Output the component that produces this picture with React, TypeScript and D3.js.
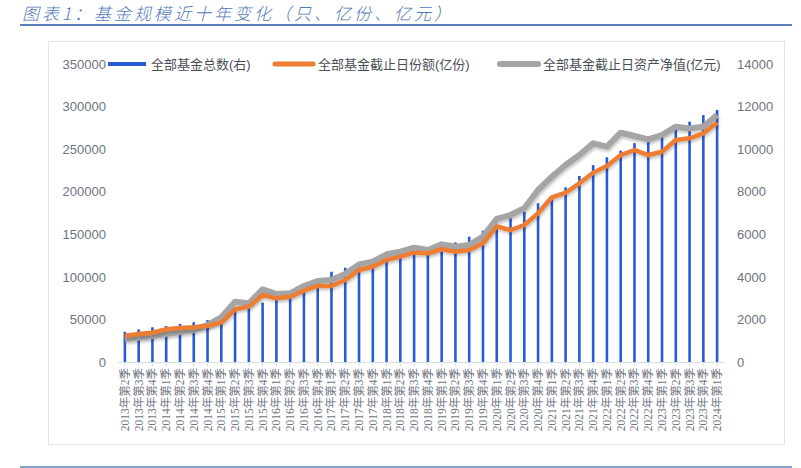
import React, { useRef, useEffect } from 'react';
import * as d3 from 'd3';

// quarters 2013Q2 .. 2024Q1
const quarters: string[] = [];
for (let y = 2013; y <= 2024; y++) {
  for (let q = 1; q <= 4; q++) {
    if ((y === 2013 && q < 2) || (y === 2024 && q > 1)) continue;
    quarters.push(`${y}年第${q}季`);
  }
}

// 全部基金总数 (只), right axis
const fundCount = [
  1420, 1530, 1630, 1690, 1790, 1870, 1970, 2100, 2480, 2520, 2790,
  2950, 3040, 3300, 3880, 4240, 4430, 4560, 4690, 4710, 4920, 5110,
  5150, 5190, 5620, 5890, 6170, 6400, 6750, 7060, 7460, 7770, 8210,
  8740, 9250, 9620, 9930, 10280, 10560, 10770, 10900, 11290, 11600, 11840,
];

// 全部基金截止日份额 (亿份), left axis
const fundShare = [
  30900, 32900, 34400, 38400, 39900, 40700, 42600, 46200, 61900, 65000, 78700,
  74800, 76700, 83700, 89300, 89300, 96300, 108100, 111900, 119800, 123700, 128400,
  127700, 132400, 129500, 131500, 139500, 159300, 155000, 160900, 174600, 193400, 198800,
  209900, 222300, 230200, 243100, 249000, 243100, 247000, 260700, 262700, 268600, 281100,
];

// 全部基金截止日资产净值 (亿元), left axis
const fundNav = [
  27000, 28500, 30500, 32900, 35200, 37600, 43500, 52500, 70800, 68900, 85400,
  79900, 80700, 89300, 95100, 96300, 103400, 114700, 117800, 126500, 129500, 134300,
  131500, 138200, 135400, 137400, 147200, 168000, 172600, 180500, 202000, 217600, 231400,
  243100, 256800, 252900, 269300, 265400, 261500, 266600, 276400, 274400, 276400, 290100,
];

const leftTicks = [0, 50000, 100000, 150000, 200000, 250000, 300000, 350000];
const rightTicks = [0, 2000, 4000, 6000, 8000, 10000, 12000, 14000];

const legendItems = [
  { label: '全部基金总数(右)', color: '#2a5bd7', width: 4 },
  { label: '全部基金截止日份额(亿份)', color: '#ED7D31', width: 5 },
  { label: '全部基金截止日资产净值(亿元)', color: '#A5A5A5', width: 6 },
];

const title = '图表1：基金规模近十年变化（只、亿份、亿元）';

const FundChart = ({ width, height }: { width: number; height: number }) => {
  const svgRef = useRef<SVGSVGElement>(null);

  useEffect(() => {
    const svg = d3.select(svgRef.current);
    svg.selectAll('*').remove();
    svg.attr('width', width).attr('height', height);

    const sans = "Arial, 'Liberation Sans', 'Noto Sans CJK SC', sans-serif";
    const axisColor = '#6d7480';

    // shadow filter
    const defs = svg.append('defs');
    const f = defs.append('filter').attr('id', 'shadow').attr('x', '-5%').attr('y', '-20%').attr('width', '110%').attr('height', '140%');
    f.append('feDropShadow').attr('dx', 1).attr('dy', 2).attr('stdDeviation', 1.5).attr('flood-color', '#000').attr('flood-opacity', 0.25);

    // title + rules
    svg.append('text')
      .attr('x', 22).attr('y', 20)
      .attr('font-family', "'Noto Sans CJK SC', sans-serif")
      .attr('font-size', 17)
      .attr('font-weight', 300)
      .attr('font-style', 'italic')
      .attr('letter-spacing', 3)
      .attr('fill', '#4f78b8')
      .text(title);
    svg.append('line').attr('x1', 20).attr('x2', 792).attr('y1', 25).attr('y2', 25)
      .attr('stroke', '#5b80bb').attr('stroke-width', 2);
    svg.append('line').attr('x1', 20).attr('x2', 792).attr('y1', 467).attr('y2', 467)
      .attr('stroke', '#5b80bb').attr('stroke-width', 1.5);

    // chart frame
    svg.append('rect').attr('x', 48.5).attr('y', 41.5).attr('width', 736).attr('height', 403)
      .attr('fill', 'none').attr('stroke', '#e1e5eb').attr('stroke-width', 1);

    const x = d3.scaleBand<string>().domain(quarters).range([118, 724]).padding(0);
    const yL = d3.scaleLinear().domain([0, 350000]).range([362, 64]);
    const yR = d3.scaleLinear().domain([0, 14000]).range([362, 64]);
    const cx = (d: string) => (x(d) as number) + x.bandwidth() / 2;

    // left axis
    const gL = svg.append('g').attr('transform', 'translate(118,0)')
      .call(d3.axisLeft(yL).tickValues(leftTicks).tickSize(0).tickPadding(12).tickFormat(d3.format('d')));
    gL.select('.domain').remove();
    gL.selectAll('text').attr('font-family', sans).attr('font-size', 13).attr('fill', axisColor);

    // right axis
    const gR = svg.append('g').attr('transform', 'translate(724,0)')
      .call(d3.axisRight(yR).tickValues(rightTicks).tickSize(0).tickPadding(13).tickFormat(d3.format('d')));
    gR.select('.domain').remove();
    gR.selectAll('text').attr('font-family', sans).attr('font-size', 13).attr('fill', axisColor);

    // bars
    svg.append('g').selectAll('rect').data(fundCount).join('rect')
      .attr('x', (_, i) => cx(quarters[i]) - 1.3)
      .attr('width', 2.6)
      .attr('y', d => yR(d))
      .attr('height', d => yR(0) - yR(d))
      .attr('fill', '#2a5bd7');

    // baseline + ticks
    svg.append('line').attr('x1', 118).attr('x2', 724).attr('y1', 362.5).attr('y2', 362.5)
      .attr('stroke', '#d9dde3').attr('stroke-width', 1);
    svg.append('g').selectAll('line').data(quarters).join('line')
      .attr('x1', d => cx(d)).attr('x2', d => cx(d))
      .attr('y1', 363).attr('y2', 366)
      .attr('stroke', '#d9dde3');

    // lines
    const line = d3.line<number>()
      .x((_, i) => cx(quarters[i]))
      .y(d => yL(d));

    svg.append('path').datum(fundNav)
      .attr('fill', 'none').attr('stroke', '#A5A5A5').attr('stroke-width', 6)
      .attr('stroke-linejoin', 'round').attr('filter', 'url(#shadow)')
      .attr('d', line);
    svg.append('path').datum(fundShare)
      .attr('fill', 'none').attr('stroke', '#ED7D31').attr('stroke-width', 4.5)
      .attr('stroke-linejoin', 'round').attr('filter', 'url(#shadow)')
      .attr('d', line);

    // x labels
    svg.append('g').selectAll('text').data(quarters).join('text')
      .attr('transform', d => `translate(${cx(d) + 4},368) rotate(-90)`)
      .attr('text-anchor', 'end')
      .attr('font-family', "'Liberation Serif', 'Noto Sans CJK SC', serif")
      .attr('font-size', 11.5)
      .attr('fill', axisColor)
      .text(d => d);

    // legend
    const legendX = [108, 275, 500];
    const lg = svg.append('g');
    legendItems.forEach((item, i) => {
      lg.append('line')
        .attr('x1', legendX[i]).attr('x2', legendX[i] + 38)
        .attr('y1', 64).attr('y2', 64)
        .attr('stroke', item.color).attr('stroke-width', item.width)
        .attr('stroke-linecap', i === 0 ? 'butt' : 'round');
      lg.append('text')
        .attr('x', legendX[i] + 43).attr('y', 68.5)
        .attr('font-family', sans).attr('font-size', 13).attr('fill', '#4a4f57')
        .text(item.label);
    });
  }, [width, height]);

  return <svg ref={svgRef} style={{ position: 'absolute', left: 0, top: 0 }}></svg>;
};

export default function App() {
  return <FundChart width={801} height={468} />;
}
